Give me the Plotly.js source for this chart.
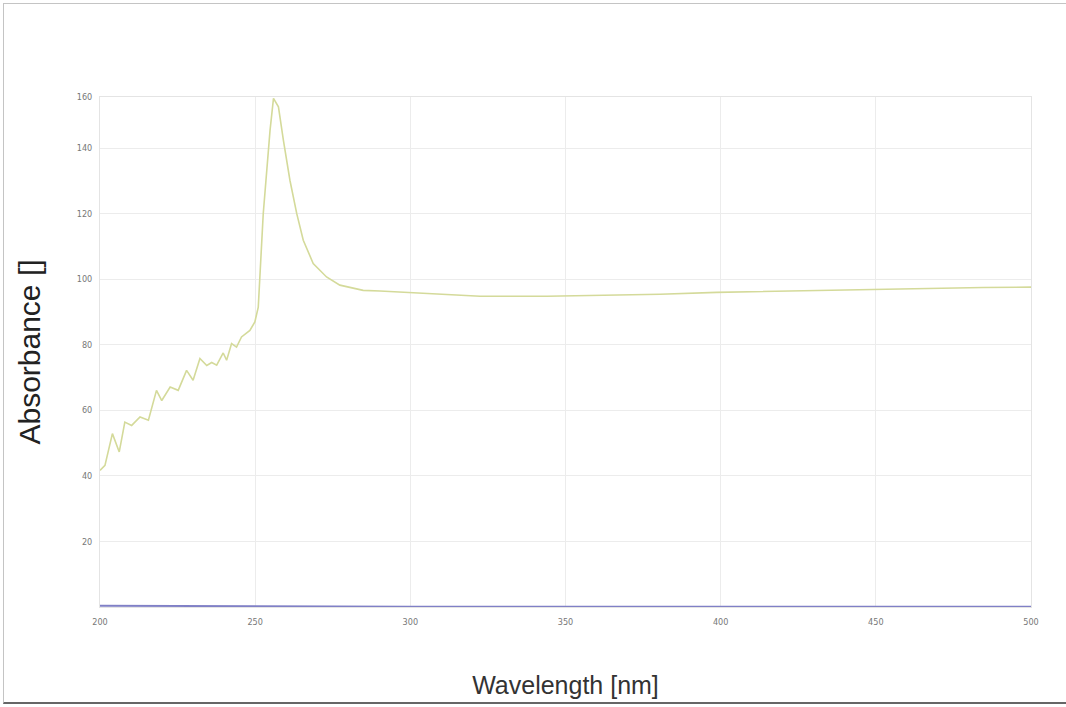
<!DOCTYPE html>
<html>
<head>
<meta charset="utf-8">
<script src="https://cdn.plot.ly/plotly-3.0.1.min.js"></script>
<style>
  html, body { margin: 0; padding: 0; background: #fff; }
  #frame { position: absolute; left: 3px; top: 3px; width: 1063px; height: 701px;
           border-top: 1px solid #c4c4c4; border-left: 1px solid #c4c4c4; border-bottom: 2px solid #666; box-sizing: border-box; }
  #chart { position: absolute; left: 0; top: 0; width: 1066px; height: 707px; }
</style>
</head>
<body>
<div id="frame"></div>
<div id="chart"></div>
<script>
// Sample spectrum
const wavelength = [200, 201.6, 204, 206.2, 208, 210.2, 212.9, 215.6, 218.2, 219.9, 222.6, 225.2, 227.9, 230, 232.2, 234.4, 236, 237.6, 239.7, 240.8, 242.4, 244, 245.6, 248.3, 249.9, 251, 252.6, 254.8, 255.9, 257.5, 259.1, 261.2, 263.4, 265.5, 268.7, 273, 277.3, 284.8, 290.2, 300, 311.7, 322.5, 344, 365.3, 380.5, 398.7, 420, 441.7, 463.2, 484.6, 500];
const absorbance = [41.7, 43.2, 52.9, 47.3, 56.4, 55.4, 58, 57, 66.1, 63, 67.1, 66.1, 72.2, 69.2, 75.8, 73.7, 74.6, 73.8, 77.5, 75.3, 80.4, 79.3, 82.4, 84.4, 87, 91.5, 120, 145.5, 155.2, 152.6, 142.4, 130.2, 120, 111.9, 104.8, 100.7, 98.2, 96.6, 96.4, 95.9, 95.4, 94.8, 94.8, 95.1, 95.4, 96.0, 96.4, 96.9, 97.2, 97.5, 97.6];

// Baseline (blue) trace
const baseWavelength = [200, 250, 300, 350, 400, 450, 500];
const baseAbsorbance = [0.4, 0.2, 0.1, 0.1, 0.1, 0.1, 0.1];

// Axis ticks
const xTicks = [200, 250, 300, 350, 400, 450, 500];
const yTickVals = [20, 40, 60, 80, 100, 120, 140, 155.6];
const yTickText = ["20", "40", "60", "80", "100", "120", "140", "160"];

const traces = [
  { x: baseWavelength, y: baseAbsorbance, type: 'scatter', mode: 'lines',
    line: { color: '#8080c6', width: 2 }, hoverinfo: 'skip' },
  { x: wavelength, y: absorbance, type: 'scatter', mode: 'lines',
    line: { color: '#d4da9a', width: 1.6 } }
];

const tickFont = { family: 'Liberation Sans Narrow, DejaVu Sans Condensed, sans-serif', size: 9, color: '#777' };

const layout = {
  width: 1066, height: 707,
  paper_bgcolor: 'rgba(0,0,0,0)', plot_bgcolor: 'rgba(0,0,0,0)',
  showlegend: false,
  margin: { l: 100, r: 35, t: 97, b: 100 },
  xaxis: {
    range: [200, 500], tickvals: xTicks, ticktext: xTicks.map(String),
    showgrid: true, gridcolor: '#ececec', gridwidth: 1,
    showline: true, linecolor: '#e4e4e4', mirror: true, zeroline: false,
    ticks: '', tickfont: tickFont, ticklabelstandoff: 6,
    title: { text: 'Wavelength [nm]', standoff: 50,
             font: { family: 'Liberation Sans, Arial, sans-serif', size: 25, color: '#333' } }
  },
  yaxis: {
    range: [0, 155.6], tickvals: yTickVals, ticktext: yTickText,
    showgrid: true, gridcolor: '#ececec', gridwidth: 1,
    showline: true, linecolor: '#e4e4e4', mirror: true, zeroline: false,
    ticks: '', tickfont: tickFont, ticklabelstandoff: 5,
    title: { text: 'Absorbance []', standoff: 27,
             font: { family: 'Liberation Sans, Arial, sans-serif', size: 30, color: '#222' } }
  }
};

Plotly.newPlot('chart', traces, layout, { displayModeBar: false, staticPlot: true });
</script>
</body>
</html>
